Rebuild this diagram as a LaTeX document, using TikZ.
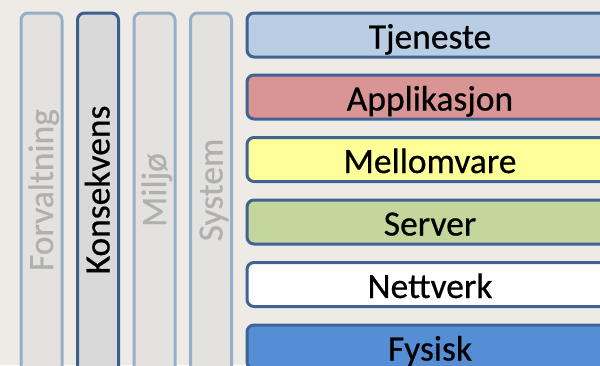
\documentclass[tikz,border=0pt]{standalone}
\usepackage{fontspec}
\setmainfont{Carlito}
\newfontfamily\labelfont[FakeBold=0.6]{Carlito}
\definecolor{bgcol}{HTML}{EEEBE6}
\definecolor{colfill}{HTML}{E4E2DF}
\definecolor{colfillon}{HTML}{D9D9DA}
\definecolor{coledge}{HTML}{98AEC6}
\definecolor{coledgeon}{HTML}{3B5F8F}
\definecolor{coltext}{HTML}{B0B0B0}
\definecolor{layeredge}{HTML}{3F6494}
\definecolor{tjeneste}{HTML}{B9CDE5}
\definecolor{applik}{HTML}{D99594}
\definecolor{mellom}{HTML}{FFFF99}
\definecolor{server}{HTML}{C3D69B}
\definecolor{nett}{HTML}{FFFFFF}
\definecolor{fysisk}{HTML}{558ED5}
\begin{document}
\begin{tikzpicture}[x=1pt,y=-1pt,
  viewcol/.style={draw=coledge, fill=colfill, line width=3pt, rounded corners=7pt,
    minimum width=41pt, minimum height=380pt, inner sep=0pt, anchor=north west},
  viewcolon/.style={viewcol, draw=coledgeon, fill=colfillon},
  viewtext/.style={rotate=90, anchor=base, inner sep=0pt, text=coltext,
    font=\labelfont\fontsize{35.5}{40}\selectfont},
  viewtexton/.style={viewtext, text=black},
  layer/.style={draw=layeredge, line width=3pt, rounded corners=7pt,
    minimum width=366pt, minimum height=44pt, inner sep=0pt,
    text height=30pt, text depth=3pt, anchor=north west,
    font=\labelfont\fontsize{35.5}{40}\selectfont}]
  % canvas
  \path[use as bounding box, fill=bgcol] (0,0) rectangle (600,365);

  % vertical viewpoint columns
  \node[viewcol]   (forv) at (19.5,11.5) {};
  \node[viewcolon] (kons) at (76,11.5) {};
  \node[viewcol]   (milj) at (132.5,11.5) {};
  \node[viewcol]   (syst) at (189,11.5) {};
  \node[viewtext]   (forvt) at (53,190) {Forvaltning};
  \node[viewtexton] (konst) at (109.5,190) {Konsekvens};
  \node[viewtext]   (miljt) at (166,190) {Miljø};
  \node[viewtext]   (systt) at (222.5,190) {System};

  % horizontal layers
  \node[layer, fill=tjeneste] (tjen) at (245.5,11.5)  {Tjeneste};
  \node[layer, fill=applik]   (appl) at (245.5,73.5)  {Applikasjon};
  \node[layer, fill=mellom]   (mell) at (245.5,136)   {Mellomvare};
  \node[layer, fill=server]   (serv) at (245.5,198.5) {Server};
  \node[layer, fill=nett]     (nett) at (245.5,261)   {Nettverk};
  \node[layer, fill=fysisk]   (fysi) at (245.5,323.5) {Fysisk};
\end{tikzpicture}
\end{document}
